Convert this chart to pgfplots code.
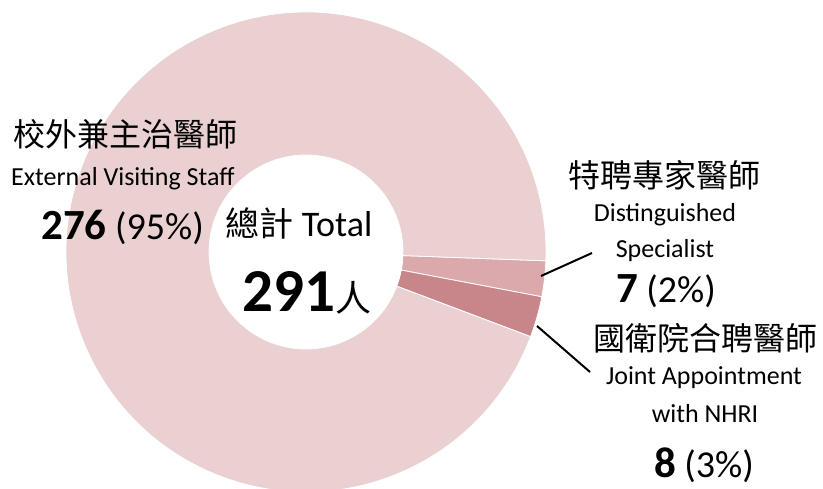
\documentclass[border=0pt]{standalone}
\usepackage{fontspec}
\setmainfont{Carlito}
\newfontfamily\cjk{Noto Sans CJK TC}
\usepackage{pgfplots}
\usepackage{pgfplotstable}
\pgfplotsset{compat=1.18}
\definecolor{mainpink}{RGB}{234,208,209}
\definecolor{midpink}{RGB}{219,169,172}
\definecolor{darkpink}{RGB}{200,134,139}

% slices, drawn clockwise from the start angle
\pgfplotstableread{
value colour
7     midpink
8     darkpink
276   mainpink
}\slices

\newcommand{\fs}[1]{\fontsize{#1}{#1}\selectfont}

\begin{document}
\begin{tikzpicture}
\useasboundingbox (0,0) rectangle (823pt,488pt);
\begin{axis}[x=1pt, y=1pt, xmin=0, xmax=823, ymin=0, ymax=488,
  hide axis, clip=false, at={(0,0)}, anchor=south west]

\pgfplotsextra{
  \def\cx{306}\def\cy{236}\def\rout{240}\def\rin{97}\def\startang{-2.1}
  \pgfplotstablegetrowsof{\slices}
  \pgfmathtruncatemacro\lastrow{\pgfplotsretval-1}
  \gdef\total{0}
  \foreach \i in {0,...,\lastrow}{
    \pgfplotstablegetelem{\i}{value}\of\slices
    \pgfmathsetmacro\tmp{\total+\pgfplotsretval}\xdef\total{\tmp}
  }
  \gdef\cum{0}
  \foreach \i in {0,...,\lastrow}{
    \pgfplotstablegetelem{\i}{value}\of\slices \let\v\pgfplotsretval
    \pgfplotstablegetelem{\i}{colour}\of\slices \let\slicecol\pgfplotsretval
    \pgfmathsetmacro\aone{\startang-\cum/\total*360}
    \pgfmathsetmacro\atwo{\startang-(\cum+\v)/\total*360}
    \pgfmathsetmacro\xin{\cx+\rin*cos(\atwo)}
    \pgfmathsetmacro\yin{\cy+\rin*sin(\atwo)}
    \fill[fill=\slicecol, draw=white, line width=0.8pt]
      (axis cs:\cx,\cy) ++(\aone:\rout pt)
      arc[start angle=\aone, end angle=\atwo, radius=\rout pt]
      -- (axis cs:\xin,\yin)
      arc[start angle=\atwo, end angle=\aone, radius=\rin pt] -- cycle;
    \pgfmathsetmacro\tmp{\cum+\v}\xdef\cum{\tmp}
  }
}

% leader lines
\addplot[black, line width=2pt] coordinates {(541,212) (592,235)};
\addplot[black, line width=2pt] coordinates {(537,162) (590,116)};

% left label
\node[anchor=base west, inner sep=0] at (axis cs:13,341) {\cjk\fs{32}校外兼主治醫師};
\node[anchor=base west, inner sep=0] at (axis cs:11,302) {\fs{26}External Visiting Staff};
\node[anchor=base west, inner sep=0] at (axis cs:41,248) {\fs{43}\bfseries 276\fs{38}\mdseries\ (95\%)};

% centre
\node[anchor=base, inner sep=0] at (axis cs:299,251) {\fs{36}{\cjk\fs{34}總計}\ Total};
\node[anchor=base, inner sep=0] at (axis cs:307,176) {{\fs{61}\bfseries 291}{\cjk\fs{36}人}};

% right labels
\node[anchor=base, inner sep=0] at (axis cs:664,300) {\cjk\fs{32}特聘專家醫師};
\node[anchor=base, inner sep=0] at (axis cs:665,266) {\fs{26}Distinguished};
\node[anchor=base, inner sep=0] at (axis cs:665,230) {\fs{26}Specialist};
\node[anchor=base, inner sep=0] at (axis cs:666,185) {\fs{43}\bfseries 7\fs{38}\mdseries\ (2\%)};
\node[anchor=base, inner sep=0] at (axis cs:705,137) {\cjk\fs{32}國衛院合聘醫師};
\node[anchor=base, inner sep=0] at (axis cs:704,103) {\fs{26}Joint Appointment};
\node[anchor=base, inner sep=0] at (axis cs:705,66) {\fs{26}with NHRI};
\node[anchor=base, inner sep=0] at (axis cs:704,11) {\fs{43}\bfseries 8\fs{38}\mdseries\ (3\%)};
\end{axis}
\end{tikzpicture}
\end{document}
